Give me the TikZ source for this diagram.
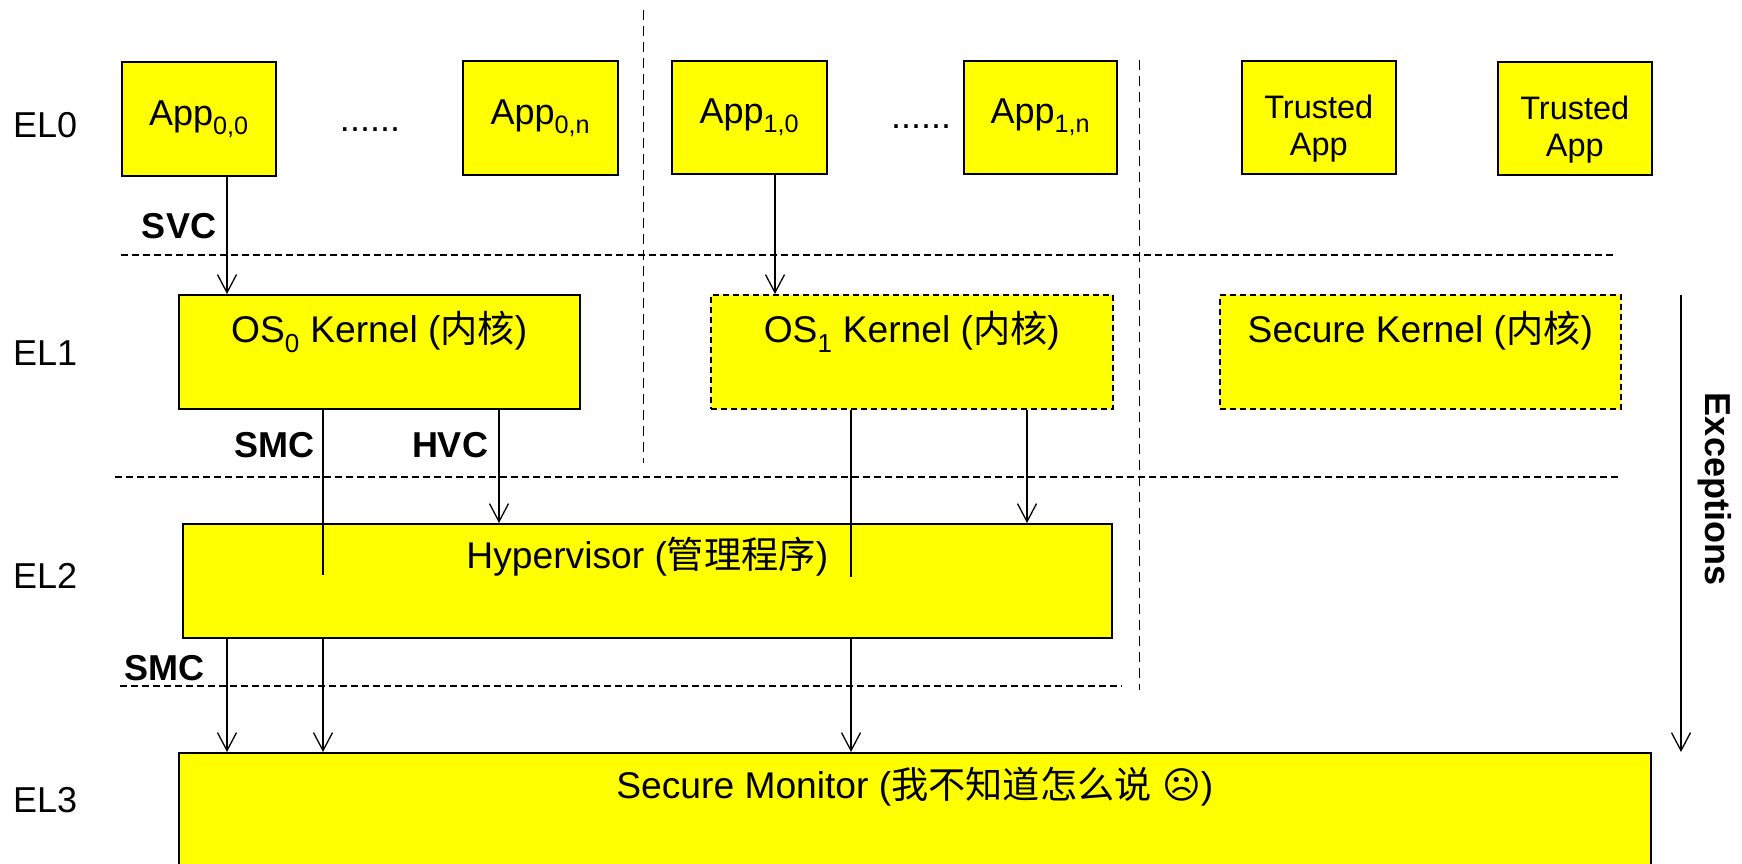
\documentclass[tikz,border=0pt]{standalone}
\usepackage{fontspec}
\setmainfont{Liberation Sans}
\newfontfamily\cjk{Noto Sans CJK SC}
\newfontfamily\symb{DejaVu Sans}
\usetikzlibrary{arrows.meta}
\definecolor{ylw}{RGB}{255,255,0}
\newcommand{\twoline}[2]{\vbox{\halign{\hfil##\hfil\cr #1\cr #2\cr}}}
\begin{document}
\begin{tikzpicture}[x=1pt,y=-1pt,
  every node/.style={font=\fontsize{36}{38}\selectfont, inner sep=0pt},
  box/.style={draw=black, line width=1.6pt, fill=ylw, anchor=north west},
  dbox/.style={box, dash pattern=on 6pt off 4pt},
  big/.style={font=\fontsize{37.2}{40}\selectfont},
  tabox/.style={box, font=\fontsize{32.5}{37}\selectfont, text height=95pt, text depth=18pt},
  lbl/.style={anchor=base west},
  blbl/.style={anchor=base, font=\fontsize{36}{38}\selectfont\bfseries},
  arr/.style={line width=1.3pt, -{Straight Barb[length=18pt,width=19pt,line width=1.3pt]}},
  plain/.style={line width=1.3pt},
  hdash/.style={line width=1.5pt, dash pattern=on 7pt off 4pt},
  vdash/.style={line width=1pt, dash pattern=on 10pt off 6pt}
]
\useasboundingbox (0,0) rectangle (1742,863);

% separators
\coordinate (h1a) at (121,255); \coordinate (h1b) at (1614,255);
\coordinate (h2a) at (115,477); \coordinate (h2b) at (1620,477);
\coordinate (h3a) at (120,686); \coordinate (h3b) at (1122,686);
\coordinate (v1a) at (643,10);  \coordinate (v1b) at (643,463);
\coordinate (v2a) at (1139,60); \coordinate (v2b) at (1139,690);
\draw[hdash] (h1a) -- (h1b);
\draw[hdash] (h2a) -- (h2b);
\draw[hdash] (h3a) -- (h3b);
\draw[vdash] (v1a) -- (v1b);
\draw[vdash] (v2a) -- (v2b);

% EL0 boxes
\node[box, minimum width=154pt, minimum height=114pt] (app00) at (121,61) {App\textsubscript{0,0}};
\node[box, minimum width=155pt, minimum height=114pt] (app0n) at (462,60) {App\textsubscript{0,n}};
\node[box, minimum width=155pt, minimum height=113pt] (app10) at (671,60) {App\textsubscript{1,0}};
\node[box, minimum width=153pt, minimum height=113pt] (app1n) at (963,60) {App\textsubscript{1,n}};
\node[tabox, minimum width=154pt] (ta1) at (1241,60) {\twoline{Trusted}{App}};
\node[tabox, minimum width=154pt] (ta2) at (1497,61) {\twoline{Trusted}{App}};
\node[anchor=base] (dots1) at (370,131) {......};
\node[anchor=base] (dots2) at (921,128) {......};

% EL1 boxes
\node[box, big, minimum width=401pt, text height=48pt, text depth=66pt] (os0) at (178,294) {OS\textsubscript{0} Kernel ({\cjk 内核})};
\node[dbox, big, minimum width=402pt, text height=48pt, text depth=66pt] (os1) at (710,294) {OS\textsubscript{1} Kernel ({\cjk 内核})};
\node[dbox, big, minimum width=401pt, text height=48pt, text depth=66pt] (sk) at (1219,294) {Secure Kernel ({\cjk 内核})};

% EL2
\node[box, big, minimum width=929pt, text height=45pt, text depth=69pt] (hyp) at (182,523) {Hypervisor ({\cjk 管理程序})};

% EL3
\node[box, big, minimum width=1472pt, text height=46pt, text depth=90pt] (sm) at (178,752) {Secure Monitor ({\cjk 我不知道怎么说} {\symb ☹})};

% level labels
\node[lbl] (el0) at (13,137) {EL0};
\node[lbl] (el1) at (13,365) {EL1};
\node[lbl] (el2) at (13,588) {EL2};
\node[lbl] (el3) at (13,812) {EL3};

% call labels
\node[blbl] (svc) at (179,238) {SVC};
\node[blbl] (smc1) at (274,457) {SMC};
\node[blbl] (hvc) at (450,457) {HVC};
\node[blbl] (smc2) at (164,680) {SMC};
\node[anchor=center, rotate=-90, font=\fontsize{36}{38}\selectfont\bfseries] (exc) at (1715,489) {Exceptions};

% connectors
\coordinate (xsvc) at (227,0);
\coordinate (x10) at (775,0);
\coordinate (xhvc) at (499,0);
\coordinate (xos1h) at (1027,0);
\coordinate (smcA) at (323,575);
\coordinate (os1A) at (851,577);
\coordinate (exTop) at (1681,295);

\draw[arr] (app00.south -| xsvc) -- (os0.north -| xsvc);
\draw[arr] (app10.south -| x10) -- (os1.north -| x10);
\draw[arr] (os0.south -| xhvc) -- (hyp.north -| xhvc);
\draw[arr] (os1.south -| xos1h) -- (hyp.north -| xos1h);
\draw[plain] (os0.south -| smcA) -- (smcA);
\draw[plain] (os1.south -| os1A) -- (os1A);
\draw[arr] (hyp.south -| xsvc) -- (sm.north -| xsvc);
\draw[arr] (hyp.south -| smcA) -- (sm.north -| smcA);
\draw[arr] (hyp.south -| os1A) -- (sm.north -| os1A);
\draw[arr] (exTop) -- (sm.north -| exTop);
\end{tikzpicture}
\end{document}
